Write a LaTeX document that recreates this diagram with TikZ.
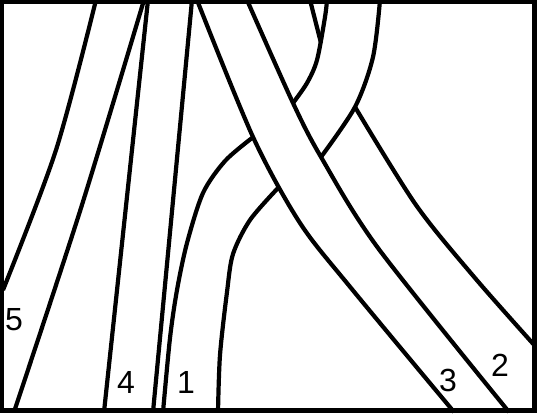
\documentclass[tikz,border=0pt]{standalone}
\usepackage{fontspec}
\setmainfont{Liberation Sans}

\begin{document}
\begin{tikzpicture}[x=1pt,y=-1pt,
 strand/.style={line width=4.2pt,line join=round},
 num/.style={inner sep=0pt,font=\fontsize{32}{36}\selectfont},
 frame/.style={line width=4.8pt}]
\useasboundingbox (0,0) rectangle (537,415);
\fill[white] (0,0) rectangle (537,415);
% band 5
\draw[strand] plot[smooth] coordinates {(96,0) (56,150) (3,290)};
\draw[strand] plot[smooth] coordinates {(144,0) (81,208) (14,412)};
% band 4
\draw[strand] (148,0) -- (104,412);
\draw[strand] (192,0) -- (153,412);
% band 3
\draw[strand] plot[smooth] coordinates {(197,0) (253,137) (300,223) (351,288) (454,412)};
\draw[strand] plot[smooth] coordinates {(247,0) (293,103) (321,157) (378,248) (509,412)};
% band 1
\draw[strand] plot[smooth] coordinates {(163,412) (170,338) (177,290) (187,243) (203,193) (225,161) (252,138)};
\draw[strand] plot[smooth] coordinates {(218,412) (220,355) (227,292) (233,254) (250,220) (278,188)};
\draw[strand] plot[smooth] coordinates {(293,103) (307,83) (317,60) (325,17) (327,0)};
\draw[strand] plot[smooth] coordinates {(321,157) (355,107) (373,57) (380,0)};
% band 2
\draw[strand] (310,0) -- (321,43);
\draw[strand] plot[smooth] coordinates {(355,107) (416,205) (475,278) (536,347)};
% numbers
\node[num] (n5) at (14,320) {5};
\node[num] (n4) at (126,382) {4};
\node[num] (n1) at (186,382) {1};
\node[num] (n3) at (448,380) {3};
\node[num] (n2) at (500,365) {2};
\draw[frame] (2,1.5) rectangle (534.5,410.5);
\end{tikzpicture}
\end{document}
